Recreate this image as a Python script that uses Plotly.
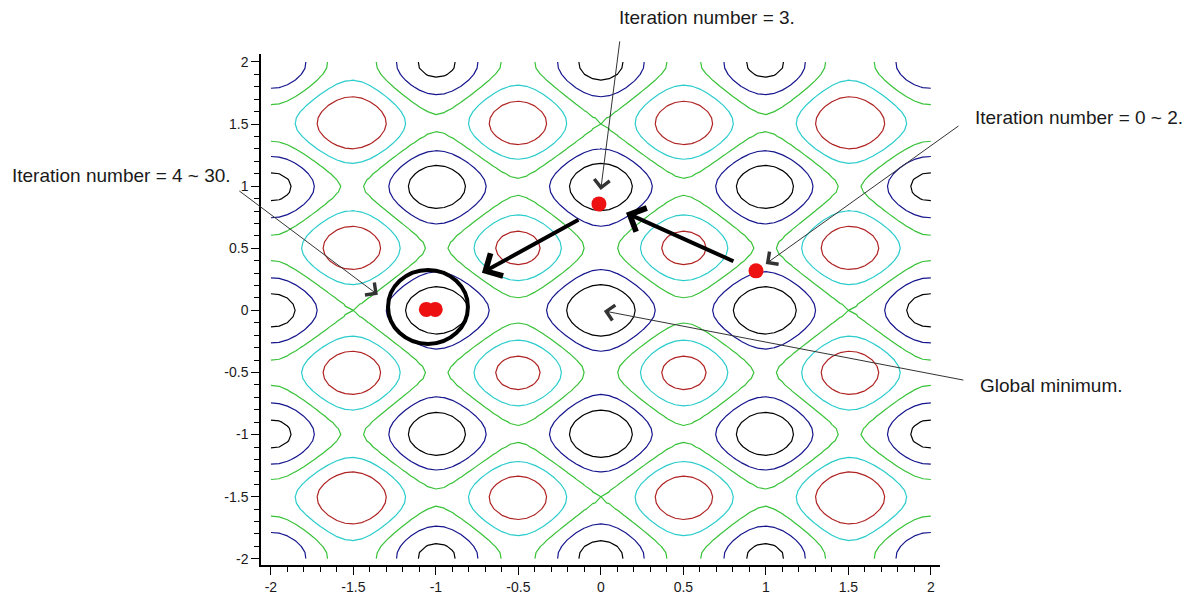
import numpy as np
import plotly.graph_objects as go

# ---- data ----
grid_x = np.linspace(-2, 2, 81).tolist()
grid_y = np.linspace(-2, 2, 81).tolist()
rastrigin_A = 10
contour_levels = [7.4167, 14.8333, 22.25, 29.6667, 37.0833, 44.5]
level_colors = ["#000000", "#16168e", "#38c238", "#2ccccc", "#b02424", "#c040c0"]

iter_x = [0.94, -0.012, -1.058, -1.004]
iter_y = [0.318, 0.857, 0.008, 0.008]

tick_vals = [-2, -1.5, -1, -0.5, 0, 0.5, 1, 1.5, 2]
tick_text = ["-2", "-1.5", "-1", "-0.5", "0", "0.5", "1", "1.5", "2"]

X, Y = np.meshgrid(np.array(grid_x), np.array(grid_y))
Z = (2 * rastrigin_A + X**2 + Y**2
     - rastrigin_A * np.cos(2 * np.pi * X) - rastrigin_A * np.cos(2 * np.pi * Y))

n = len(level_colors)
cscale = []
for i, c in enumerate(level_colors):
    lo = max(0, (i - 0.5) / (n - 1))
    hi = min(1, (i + 0.5) / (n - 1))
    cscale.append([lo, c])
    cscale.append([hi, c])

fig = go.Figure()
fig.add_trace(go.Contour(
    x=grid_x, y=grid_y, z=Z,
    autocontour=False,
    contours=dict(start=contour_levels[0], end=contour_levels[-1],
                  size=contour_levels[1] - contour_levels[0], coloring="lines"),
    colorscale=cscale, zauto=False, zmin=contour_levels[0], zmax=contour_levels[-1],
    line=dict(width=1.2, smoothing=0),
    showscale=False, hoverinfo="skip",
))

fig.add_trace(go.Scatter(
    x=iter_x, y=iter_y, mode="markers",
    marker=dict(color="#ee1111", size=15, line=dict(width=0)),
    showlegend=False, hoverinfo="skip",
))

# big circle around final iterate
cx, cy = -1.048, 0.028
fig.add_shape(type="circle", xref="x", yref="y",
              x0=cx - 0.242, x1=cx + 0.242, y0=cy - 0.298, y1=cy + 0.298,
              line=dict(color="black", width=4))

anns = []
# thick path arrows
for (tx, ty, hx, hy) in [(0.812, 0.390, 0.152, 0.785), (-0.127, 0.736, -0.721, 0.302)]:
    anns.append(dict(x=hx, y=hy, ax=tx, ay=ty, xref="x", yref="y", axref="x", ayref="y",
                     text="", showarrow=True, arrowhead=4, arrowsize=1.25, arrowwidth=4,
                     arrowcolor="black"))

# thin callout arrows
callouts = [
    (iter_x[1], iter_y[1], 21, -164, 14),
    (iter_x[0], iter_y[0], 204, -146, 12),
    (-1.352, 0.125, -140, -105, 0),
    (0.0, 0.0, 364, 70, 3),
]
for (x, y, ax, ay, so) in callouts:
    anns.append(dict(x=x, y=y, ax=ax, ay=ay, xref="x", yref="y",
                     text="", showarrow=True, arrowhead=4, arrowsize=3, arrowwidth=1,
                     arrowcolor="#333333", standoff=so))

texts = [
    ("Iteration number = 3.", 0.524, 1.072),
    ("Iteration number = 0 ~ 2.", 1.0486, 0.875),
    ("Iteration number = 4 ~ 30.", -0.3697, 0.763),
    ("Global minimum.", 1.056, 0.352),
]
for (t, px, py) in texts:
    anns.append(dict(x=px, y=py, xref="paper", yref="paper", text=t, showarrow=False,
                     xanchor="left", yanchor="middle",
                     font=dict(family="Liberation Sans, Arial", size=19, color="#1a1a1a")))

fig.update_layout(annotations=anns)

axis_common = dict(
    showgrid=False, zeroline=False, showline=True, linecolor="black", linewidth=1.5,
    ticks="outside", ticklen=8, tickwidth=1.2, tickcolor="black",
    tickvals=tick_vals, ticktext=tick_text, automargin=False,
    tickfont=dict(family="Liberation Sans, Arial", size=14, color="#1a1a1a"),
    minor=dict(ticks="outside", ticklen=5, tickwidth=1, tickcolor="black", dtick=0.1, showgrid=False),
    mirror=False,
)
fig.update_xaxes(range=[-2.06, 2.055], **axis_common)
fig.update_yaxes(range=[-2.05, 2.064], **axis_common)

fig.update_layout(
    width=1196, height=598,
    margin=dict(l=261, r=256, t=54, b=33),
    plot_bgcolor="white", paper_bgcolor="white",
    showlegend=False,
)

fig.write_html("out.html")
